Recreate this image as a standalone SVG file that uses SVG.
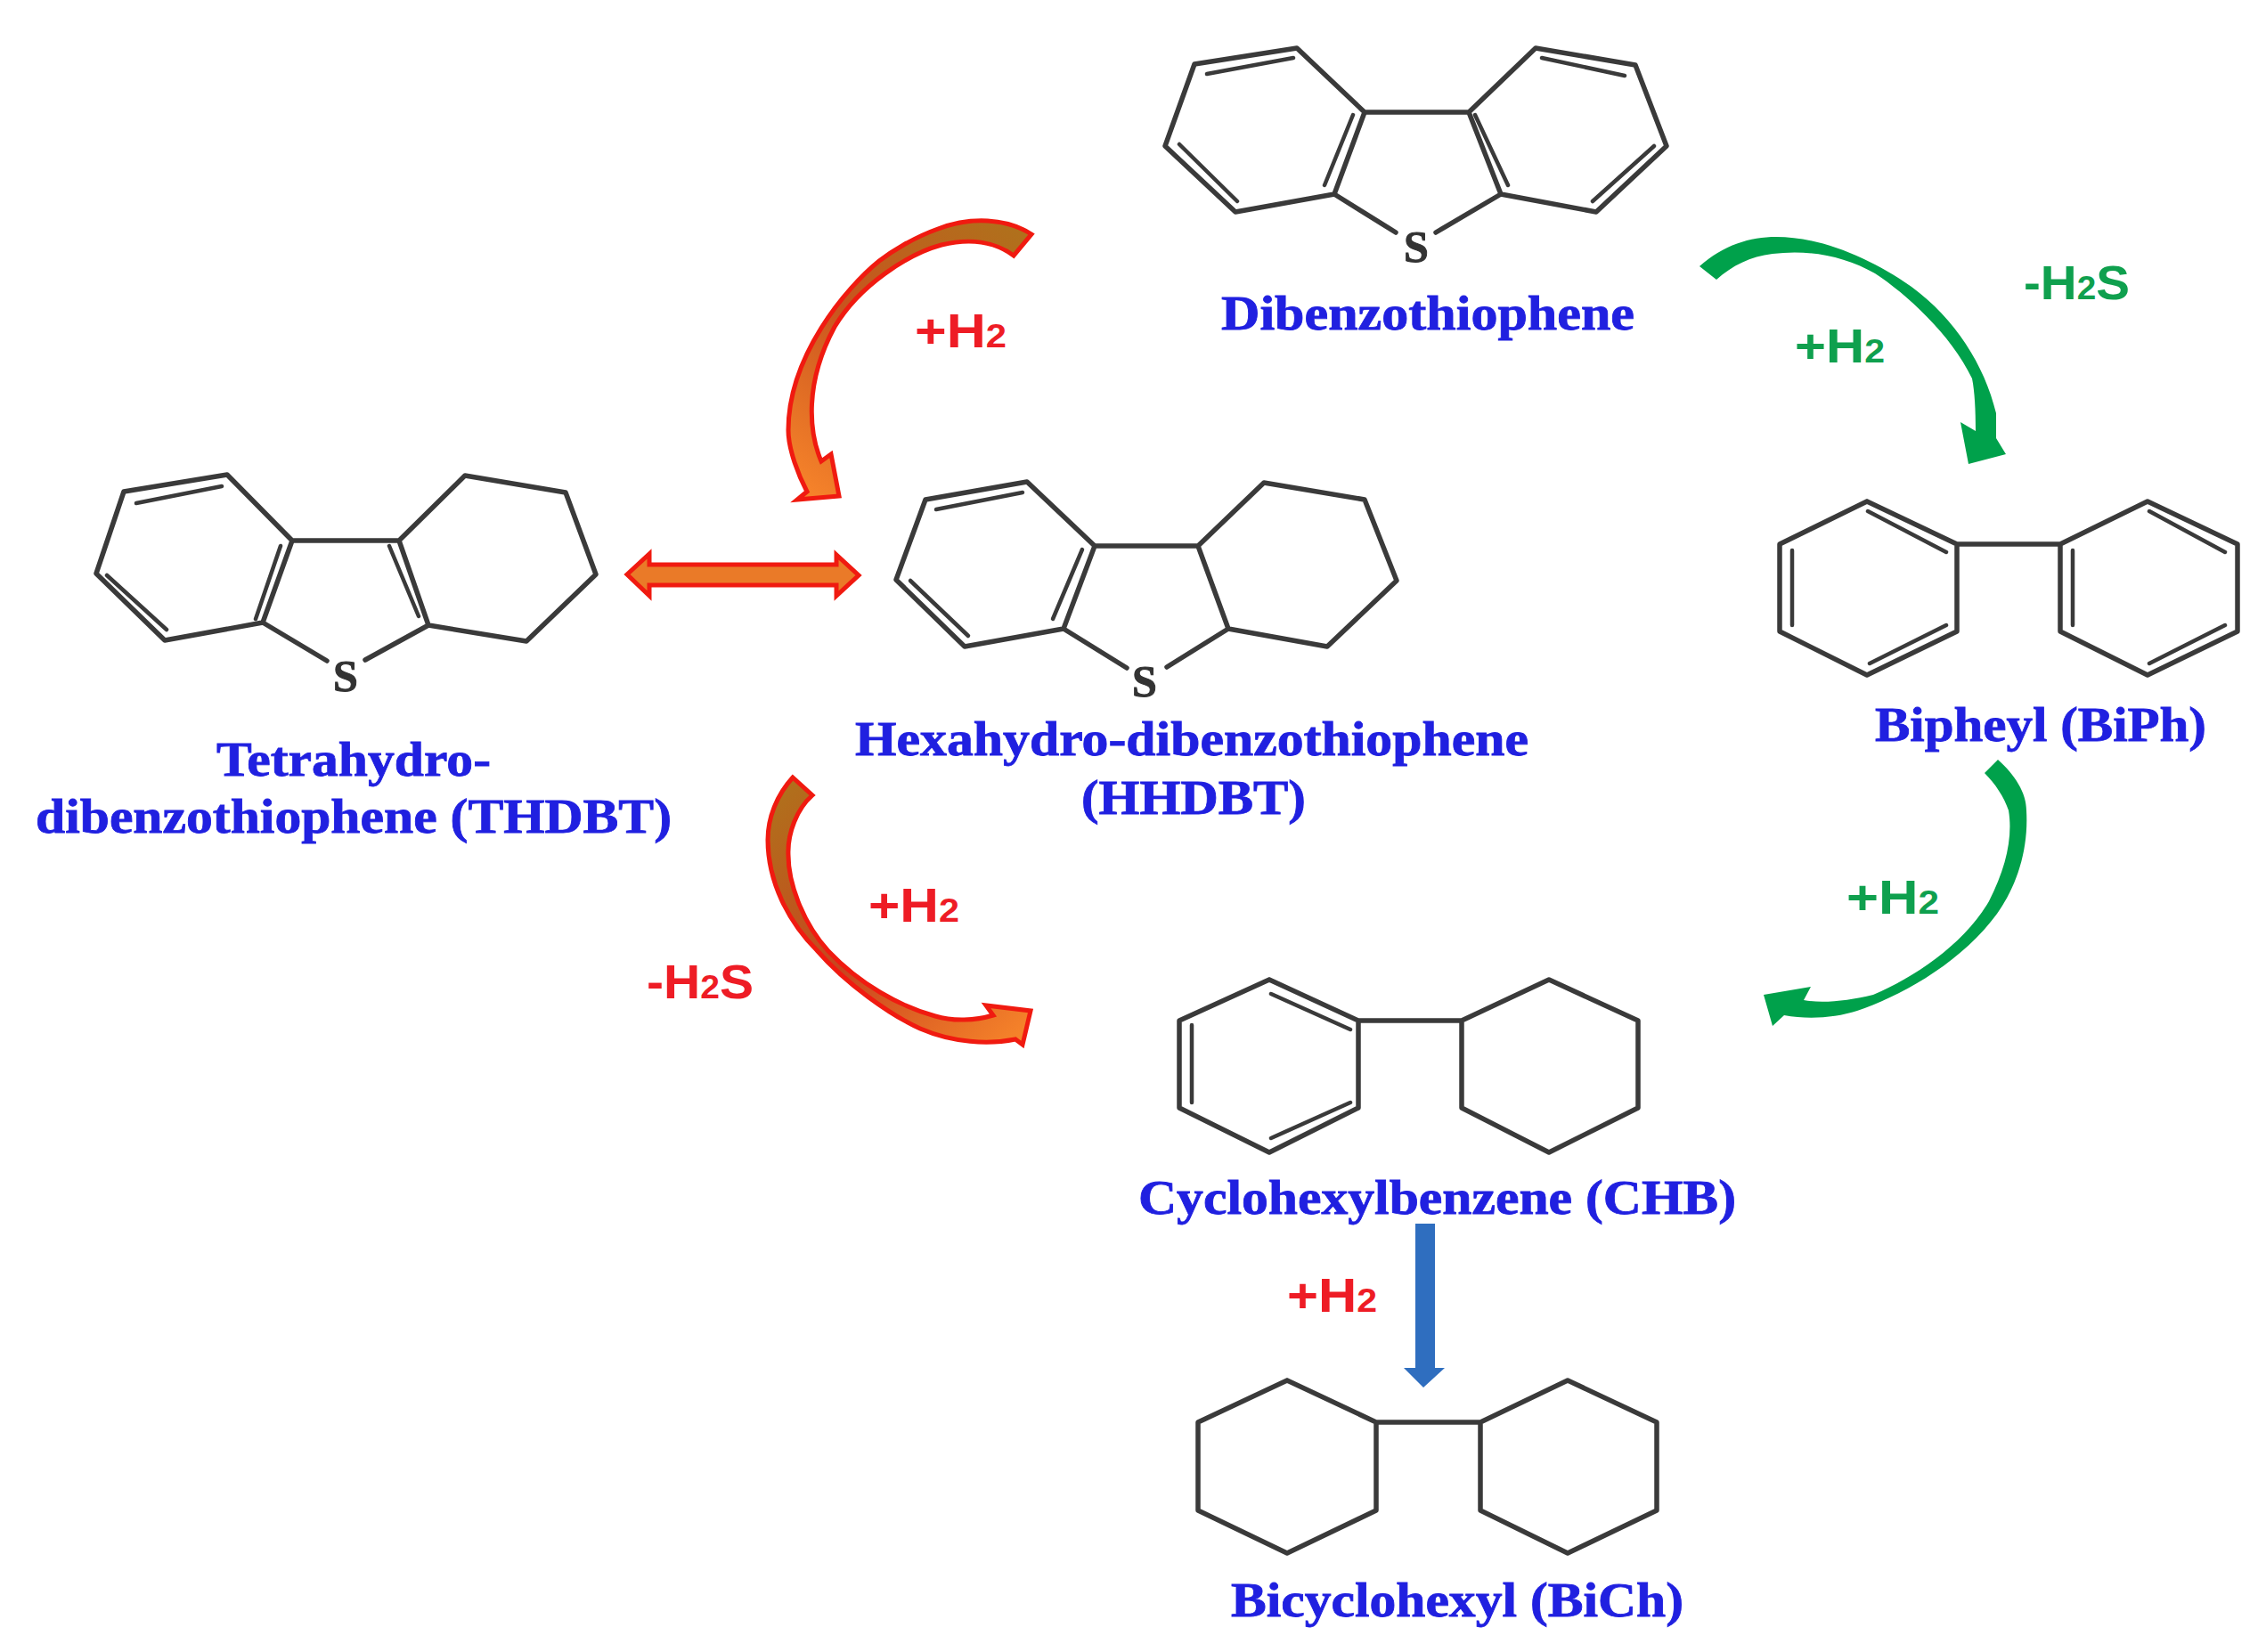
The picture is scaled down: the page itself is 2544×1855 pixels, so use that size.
<svg xmlns="http://www.w3.org/2000/svg" width="2544" height="1855" viewBox="0 0 2544 1855">
<defs>
<style>
.b{fill:none;stroke:#3a3a3a;stroke-width:5.5;stroke-linejoin:round;stroke-linecap:round}
.i{fill:none;stroke:#3a3a3a;stroke-width:4.5;stroke-linecap:round}
.s{font:bold 50px "Liberation Serif",serif;fill:#333;stroke:#333;stroke-width:1;text-anchor:middle}
.n{font:bold 54px "Liberation Serif",serif;fill:#2020e0;stroke:#2020e0;stroke-width:.8}
.r{font:bold 54px "Liberation Sans",sans-serif;fill:#ee1c25}
.g{font:bold 54px "Liberation Sans",sans-serif;fill:#0fa04e}
.sub{font-size:37px}
.ra{stroke:#f01a10;stroke-width:5;stroke-linejoin:miter}
</style>
<linearGradient id="gt" gradientUnits="userSpaceOnUse" x1="1140" y1="260" x2="915" y2="555"><stop offset="0" stop-color="#b0701c"/><stop offset=".5" stop-color="#c8541e"/><stop offset="1" stop-color="#f5822a"/></linearGradient>
<linearGradient id="gb" gradientUnits="userSpaceOnUse" x1="885" y1="880" x2="1150" y2="1155"><stop offset="0" stop-color="#b0701c"/><stop offset=".5" stop-color="#c8441e"/><stop offset="1" stop-color="#f5822a"/></linearGradient>
</defs>
<rect width="2544" height="1855" fill="#ffffff"/>
<g id="connectors">
<path id="dbt-to-hhdbt" class="ra" fill="url(#gt)" d="M1158,263 C1130,245 1090,243 1053,257 C1025,267 1000,283 987,293 C950,323 885,400 885,483 C885,505 897,535 906,552 L895,561 L942,557 L933,510 L922,518 C908,485 903,430 937,367 C965,320 1020,285 1057,275 C1090,267 1118,272 1138,287 Z"/>
<path id="thdbt-hhdbt" class="ra" fill="#ea7a28" d="M704,645 L729,622 L729,634 L939,634 L939,623 L964,646 L939,669 L939,657 L729,657 L729,669 Z"/>
<path id="hhdbt-to-chb" class="ra" fill="url(#gb)" d="M890,873 C872,893 862,918 862,943 C862,990 885,1035 917,1067 C950,1105 1000,1140 1033,1155 C1070,1171 1110,1173 1140,1167 L1148,1173 L1157,1135 L1107,1129 L1115,1140 C1095,1146 1070,1147 1050,1141 C1010,1130 965,1105 930,1068 C900,1035 885,990 885,960 C884,935 895,908 912,893 Z"/>
<path id="dbt-to-biph" fill="#00a14b" d="M1908,299 C1935,275 1965,266 1994,266 C2045,266 2100,290 2146,322 C2195,358 2228,410 2241,464 L2241,492 L2252,510 L2210,521 L2201,474 L2218,484 C2218,460 2217,440 2214,425 C2190,375 2140,330 2105,307 C2070,287 2030,280 1990,285 C1965,288 1945,298 1927,314 Z"/>
<path id="biph-to-chb" fill="#00a14b" d="M2243,853 C2262,870 2275,890 2275,910 C2278,960 2260,1005 2235,1035 C2195,1085 2130,1120 2085,1135 C2060,1143 2030,1145 2003,1140 L1990,1152 L1980,1117 L2033,1108 L2025,1123 C2045,1127 2075,1124 2103,1117 C2150,1097 2205,1060 2233,1012 C2252,975 2260,940 2255,910 C2250,895 2240,880 2228,868 Z"/>
<path id="chb-to-bich" fill="#2f6ebf" d="M1589,1374 L1611,1374 L1611,1536 L1622,1536 L1598,1558 L1576,1536 L1589,1536 Z"/>
</g>
<g id="dibenzothiophene">
<path class="b" d="M1567,261 L1498,218 L1387,238 L1308,164 L1341,72 L1456,54 L1532,126 L1498,218 M1532,126 L1649,126 L1724,54 L1836,73 L1871,164 L1792,238 L1685,218 L1649,126 M1685,218 L1612,261"/>
<path class="i" d="M1355,83 L1452,65 M1324,162 L1389,226 M1519,129 L1487,208 M1656,129 L1693,208 M1731,65 L1824,85 M1857,164 L1788,226"/>
<text class="s" x="1590" y="294">S</text>
<text class="n" x="1371" y="370" textLength="464" lengthAdjust="spacingAndGlyphs">Dibenzothiophene</text>
</g>
<g id="thdbt">
<path class="b" d="M367,742 L295,699 L185,719 L108,644 L139,552 L255,533 L328,607 L295,699 M328,607 L448,607 L522,534 L635,553 L669,645 L591,720 L481,702 L448,607 M481,702 L410,741"/>
<path class="i" d="M153,565 L249,546 M120,646 L187,707 M315,613 L287,695 M437,613 L470,692"/>
<text class="s" x="388" y="776">S</text>
<text class="n" x="243" y="871" textLength="308" lengthAdjust="spacingAndGlyphs">Tetrahydro-</text>
<text class="n" x="40" y="935" textLength="714" lengthAdjust="spacingAndGlyphs">dibenzothiophene (THDBT)</text>
</g>
<g id="hhdbt">
<path class="b" d="M1265,750 L1194,706 L1083,726 L1006,651 L1039,561 L1153,541 L1229,613 L1194,706 M1229,613 L1345,613 L1419,542 L1532,561 L1568,652 L1490,726 L1379,706 L1345,613 M1379,706 L1310,749"/>
<path class="i" d="M1051,572 L1148,553 M1022,652 L1087,714 M1215,617 L1182,695"/>
<text class="s" x="1285" y="782">S</text>
<text class="n" x="960" y="848" textLength="756" lengthAdjust="spacingAndGlyphs">Hexahydro-dibenzothiophene</text>
<text class="n" x="1214" y="914" textLength="252" lengthAdjust="spacingAndGlyphs">(HHDBT)</text>
</g>
<g id="biph">
<path class="b" d="M2096,563 L1998,611 L1998,709 L2096,758 L2197,709 L2197,611 L2096,563 M2197,611 L2313,611 L2411,563 L2512,611 L2512,709 L2411,758 L2313,709 L2313,611"/>
<path class="i" d="M2097,574 L2185,620 M2012,618 L2012,702 M2099,745 L2185,702 M2327,618 L2327,702 M2413,574 L2498,620 M2413,745 L2498,702"/>
<text class="n" x="2105" y="832" textLength="372" lengthAdjust="spacingAndGlyphs">Bipheyl (BiPh)</text>
</g>
<g id="chb">
<path class="b" d="M1425,1100 L1324,1146 L1324,1244 L1425,1294 L1525,1244 L1525,1146 L1425,1100 M1525,1146 L1641,1146 L1739,1100 L1839,1146 L1839,1244 L1739,1294 L1641,1244 L1641,1146"/>
<path class="i" d="M1427,1116 L1516,1156 M1338,1151 L1338,1238 M1427,1278 L1516,1238"/>
<text class="n" x="1278" y="1363" textLength="671" lengthAdjust="spacingAndGlyphs">Cyclohexylbenzene (CHB)</text>
</g>
<g id="bich">
<path class="b" d="M1445,1550 L1345,1597 L1345,1696 L1445,1744 L1545,1696 L1545,1597 L1445,1550 M1545,1597 L1662,1597 L1760,1550 L1860,1597 L1860,1696 L1760,1744 L1662,1696 L1662,1597"/>
<text class="n" x="1382" y="1815" textLength="508" lengthAdjust="spacingAndGlyphs">Bicyclohexyl (BiCh)</text>
</g>
<g id="labels">
<text class="r" x="1027" y="390" textLength="103" lengthAdjust="spacingAndGlyphs">+H<tspan class="sub">2</tspan></text>
<text class="r" x="975" y="1035" textLength="102" lengthAdjust="spacingAndGlyphs">+H<tspan class="sub">2</tspan></text>
<text class="r" x="726" y="1121" textLength="120" lengthAdjust="spacingAndGlyphs">-H<tspan class="sub">2</tspan>S</text>
<text class="r" x="1445" y="1473" textLength="101" lengthAdjust="spacingAndGlyphs">+H<tspan class="sub">2</tspan></text>
<text class="g" x="2015" y="407" textLength="101" lengthAdjust="spacingAndGlyphs">+H<tspan class="sub">2</tspan></text>
<text class="g" x="2272" y="336" textLength="119" lengthAdjust="spacingAndGlyphs">-H<tspan class="sub">2</tspan>S</text>
<text class="g" x="2073" y="1026" textLength="104" lengthAdjust="spacingAndGlyphs">+H<tspan class="sub">2</tspan></text>
</g>
</svg>
